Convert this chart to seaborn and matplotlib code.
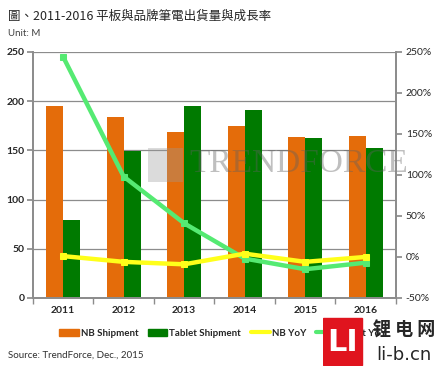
import numpy as np
import pandas as pd
import matplotlib
matplotlib.use('Agg')
import matplotlib.pyplot as plt
from matplotlib.patches import Patch, Rectangle
from matplotlib.lines import Line2D
import seaborn as sns

# data
years = ['2011', '2012', '2013', '2014', '2015', '2016']
nb_ship = [195, 184, 169, 175, 164, 165]
tablet_ship = [79, 149, 195, 191, 163, 152]
nb_yoy = [1, -6, -9, 4, -6, 0]
tablet_yoy = [244, 98, 41, -2, -15, -7]

c_nb = '#E46C0A'
c_tab = '#007A00'
c_nbyoy = '#FFFF1A'
c_tabyoy = '#55EA72'

sns.set_theme(style='white')
plt.rcParams['font.family'] = ['Lato', 'Noto Sans CJK TC', 'DejaVu Sans']

ship = pd.DataFrame({
    'year': years * 2,
    'value': nb_ship + tablet_ship,
    'series': ['NB Shipment'] * 6 + ['Tablet Shipment'] * 6,
})
yoy = pd.DataFrame({'x': np.arange(len(years)), 'nb': nb_yoy, 'tab': tablet_yoy})

fig = plt.figure(figsize=(4.39, 3.66), dpi=100)
ax = fig.add_axes([0.075, 0.186, 0.827, 0.672])

sns.barplot(data=ship, x='year', y='value', hue='series', palette=[c_nb, c_tab],
            width=0.56, saturation=1, legend=False, ax=ax, zorder=2, linewidth=0)
ax.set_ylim(0, 250)
ax.set_yticks(range(0, 251, 50))
ax.set_xlim(-0.5, 5.5)
ax.set_xlabel('')
ax.set_ylabel('')
ax.yaxis.grid(True, color='#8c8c8c', lw=0.9, zorder=0)
ax.set_axisbelow(True)
for s in ['left', 'bottom', 'right']:
    ax.spines[s].set_color('#8c8c8c')
ax.spines['top'].set_visible(False)
ax.tick_params(axis='y', which='major', length=4, color='#8c8c8c', left=True, pad=2)
ax.tick_params(axis='x', which='major', length=0, pad=6)
ax.set_xticks(np.arange(-0.5, 6, 1), minor=True)
ax.tick_params(axis='x', which='minor', length=4, color='#8c8c8c', bottom=True)
for lab in ax.get_xticklabels() + ax.get_yticklabels():
    lab.set_fontweight('bold')
    lab.set_fontsize(7.5)

ax2 = ax.twinx()
sns.lineplot(data=yoy, x='x', y='nb', color=c_nbyoy, lw=3.2, marker='s', ms=5,
             mec=c_nbyoy, ax=ax2, zorder=4)
sns.lineplot(data=yoy, x='x', y='tab', color=c_tabyoy, lw=3.2, marker='s', ms=5,
             mec=c_tabyoy, ax=ax2, zorder=3)
ax2.set_ylim(-50, 250)
ax2.set_yticks(range(-50, 251, 50))
ax2.set_yticklabels([f'{v}%' for v in range(-50, 251, 50)], fontsize=7.5)
ax2.set_xlim(-0.5, 5.5)
ax2.set_xlabel('')
ax2.set_ylabel('')
ax2.grid(False)
for s in ['left', 'bottom', 'right']:
    ax2.spines[s].set_color('#8c8c8c')
ax2.spines['top'].set_visible(False)
ax2.tick_params(axis='y', length=4, color='#8c8c8c', right=True, pad=3)

# faint TrendForce watermark over the bars
ax2.add_patch(Rectangle((0.317, 0.47), 0.095, 0.14, transform=ax.transAxes,
                        color='#9a9a9a', alpha=0.35, lw=0, zorder=2))
ax2.text(0.43, 0.545, 'TRENDFORCE', transform=ax.transAxes, fontsize=24,
         family='Liberation Serif', color='#606060', alpha=0.4, va='center', zorder=2)

fig.text(0.018, 0.955, '圖、2011-2016 平板與品牌筆電出貨量與成長率', fontsize=9,
         family=['Noto Sans CJK TC', 'DejaVu Sans'], va='center')
fig.text(0.018, 0.908, 'Unit: M', fontsize=7, color='#404040', va='center')
fig.text(0.018, 0.03, 'Source: TrendForce, Dec., 2015', fontsize=7, color='#303030', va='center')

handles = [Patch(color=c_nb), Patch(color=c_tab),
           Line2D([], [], color=c_nbyoy, lw=3), Line2D([], [], color=c_tabyoy, lw=3)]
labels = ['NB Shipment', 'Tablet Shipment', 'NB YoY', 'Tablet YoY']
leg = fig.legend(handles, labels, loc='center left', bbox_to_anchor=(0.115, 0.09), ncol=4,
                 frameon=False, prop={'weight': 'bold', 'size': 7}, handlelength=2.0,
                 handleheight=0.8, columnspacing=1.0, handletextpad=0.2)

# li-b.cn logo in the lower right corner, laid over the end of the legend
lax = fig.add_axes([0.735, 0.0, 0.265, 0.135], zorder=10)
lax.set_xlim(0, 1)
lax.set_ylim(0, 1)
lax.axis('off')
lax.add_patch(Rectangle((0.0, 0.02), 0.34, 0.96, color='#E0141E'))
lax.text(0.17, 0.47, 'LI', color='white', fontsize=22, fontweight='bold',
         ha='center', va='center', family='DejaVu Sans')
lax.text(0.7, 0.72, '锂 电 网', fontsize=13, fontweight='bold', ha='center', va='center',
         family=['Noto Sans CJK SC', 'DejaVu Sans'])
lax.text(0.7, 0.22, 'li-b.cn', fontsize=13, ha='center', va='center', family='DejaVu Sans')

fig.savefig('out.png', dpi=100)
